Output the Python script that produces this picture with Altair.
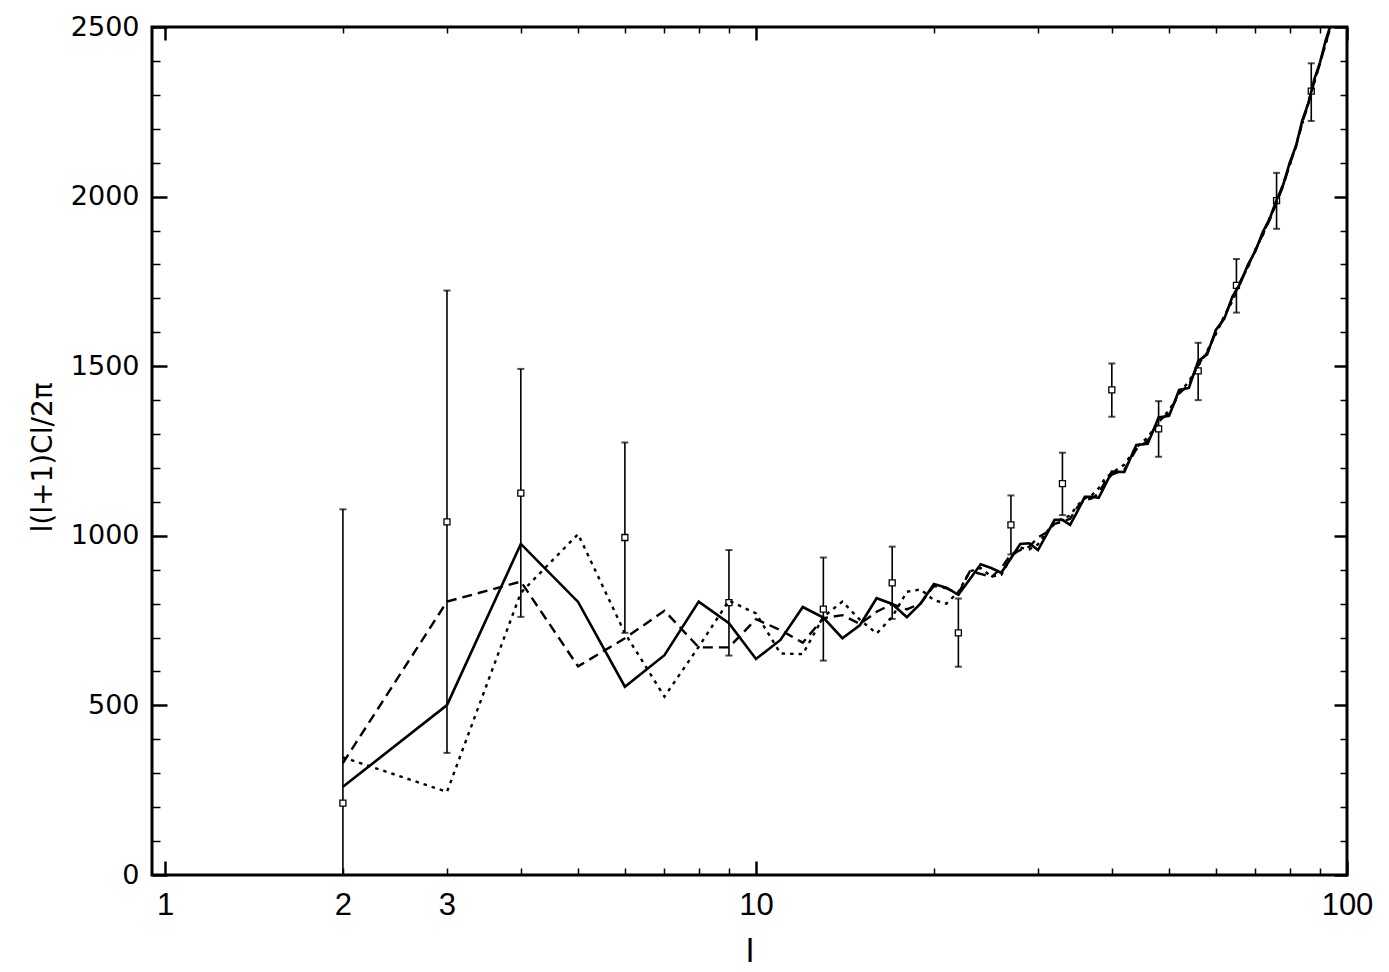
import altair as alt
import pandas as pd

# multipole grid of the three model curves
ell = [2, 3, 4, 5, 6, 7, 8, 9, 10, 11, 12, 13, 14, 15, 16, 17, 18, 19, 20,
       21, 22, 23, 24, 25, 26, 27, 28, 29, 30, 31, 32, 33, 34, 35, 36, 37, 38, 39, 40,
       42, 44, 46, 48, 50, 52, 54, 56, 58, 60, 62, 64, 66, 68, 70, 72, 74, 76, 78,
       80, 82, 84, 86, 88, 90, 92, 94, 96, 98, 100]

solid = [260, 501, 976, 805, 555, 648, 806, 742, 637, 693, 790, 759, 698, 737, 816, 799, 760, 801, 858,
         847, 826, 872, 916, 905, 891, 934, 976, 978, 958, 1003, 1047, 1047, 1032, 1073, 1115, 1115, 1112, 1150, 1189,
         1188, 1268, 1271, 1349, 1354, 1430, 1436, 1515, 1535, 1607, 1640, 1705, 1745, 1800, 1840, 1895, 1935, 1990, 2035,
         2100, 2150, 2225, 2275, 2345, 2395, 2460, 2510, 2570, 2620, 2680]

dashed = [330, 806, 865, 615, 698, 779, 671, 671, 754, 722, 685, 757, 766, 740, 776, 799, 783, 801, 852,
          845, 830, 895, 888, 878, 905, 945, 958, 968, 995, 1010, 1035, 1042, 1050, 1085, 1105, 1110, 1125, 1160, 1180,
          1195, 1255, 1280, 1340, 1360, 1420, 1445, 1505, 1540, 1600, 1645, 1698, 1748, 1795, 1842, 1888, 1932, 1982, 2032,
          2095, 2148, 2218, 2272, 2338, 2392, 2452, 2505, 2562, 2615, 2672]

dotted = [347, 245, 832, 1005, 713, 526, 673, 809, 771, 653, 651, 761, 806, 752, 712, 761, 835, 842, 810,
          800, 835, 895, 905, 880, 885, 935, 965, 960, 975, 1010, 1040, 1050, 1060, 1090, 1110, 1120, 1140, 1170, 1185,
          1210, 1260, 1290, 1335, 1370, 1420, 1455, 1500, 1545, 1595, 1648, 1692, 1750, 1792, 1845, 1885, 1938, 1980, 2038,
          2092, 2152, 2215, 2278, 2335, 2396, 2448, 2508, 2558, 2618, 2668]

# measured band powers with error bars
l_data = [2, 3, 4, 6, 9, 13, 17, 22, 27, 33, 40, 48, 56, 65, 76, 87]
v_data = [212, 1041, 1126, 995, 803, 784, 861, 714, 1032, 1154, 1430, 1315, 1486, 1738, 1988, 2311]
v_lo = [0, 360, 761, 714, 647, 632, 755, 614, 945, 1061, 1351, 1233, 1400, 1658, 1905, 2223]
v_hi = [1078, 1723, 1492, 1275, 958, 936, 968, 815, 1119, 1245, 1508, 1397, 1569, 1816, 2070, 2393]

x_label_ticks = [1, 2, 3, 10, 100]
x_major = [1, 10, 100]
x_minor = [2, 3, 4, 5, 6, 7, 8, 9, 20, 30, 40, 50, 60, 70, 80, 90]
y_major = [0, 500, 1000, 1500, 2000, 2500]
y_minor = [100, 200, 300, 400, 600, 700, 800, 900, 1100, 1200, 1300, 1400,
           1600, 1700, 1800, 1900, 2100, 2200, 2300, 2400]

df_s = pd.DataFrame({"l": ell, "v": solid})
df_d = pd.DataFrame({"l": ell, "v": dashed})
df_t = pd.DataFrame({"l": ell, "v": dotted})
df_e = pd.DataFrame({"l": l_data, "v": v_data, "lo": v_lo, "hi": v_hi})

xs = alt.Scale(type="log", domain=[0.9506, 100], nice=False)
ys = alt.Scale(domain=[0, 2500], nice=False, zero=False)

SANS = "Liberation Sans"
WIDE = "DejaVu Sans"

ax_x_lab = alt.Axis(orient="bottom", values=x_label_ticks, format="d", ticks=False, tickSize=0,
                    domain=False, grid=False, labelFont=SANS, labelFontSize=31, labelPadding=15,
                    labelColor="black", labelFlush=False, labelOverlap=False,
                    title="l", titleFont=SANS, titleFontSize=34, titleFontWeight="normal",
                    titleColor="black", titleY=86, titleBaseline="alphabetic")
ax_y_lab = alt.Axis(orient="left", values=y_major, format="d", ticks=False, tickSize=0,
                    domain=False, grid=False,
                    labelFont=WIDE, labelFontSize=27, labelPadding=13, labelColor="black",
                    labelFlush=False, labelOverlap=False,
                    title="l(l+1)Cl/2π", titleFont=WIDE, titleFontSize=28, titleFontWeight="normal",
                    titleColor="black", titleX=-101, titleY=430, titleAngle=270,
                    titleAlign="center", titleBaseline="alphabetic")


def tick_axis(orient, vals, size, width):
    return alt.Axis(orient=orient, values=vals, offset=-size, tickSize=size, tickWidth=width,
                    tickColor="black", labels=False, domain=False, grid=False, title=None)


rule = alt.Chart(df_e).mark_rule(color="black", strokeWidth=1.6).encode(
    x=alt.X("l:Q", scale=xs, axis=tick_axis("bottom", x_major, 14, 2.5)),
    y=alt.Y("lo:Q", scale=ys, axis=tick_axis("left", y_major, 15, 2.5)),
    y2="hi:Q",
)
cap_hi = alt.Chart(df_e).mark_tick(color="black", thickness=2, size=7, orient="horizontal").encode(
    x=alt.X("l:Q", scale=xs, axis=tick_axis("bottom", x_minor, 7, 1.5)),
    y=alt.Y("hi:Q", scale=ys, axis=tick_axis("left", y_minor, 8, 1.5)),
)
cap_lo = alt.Chart(df_e).mark_tick(color="black", thickness=2, size=7, orient="horizontal").encode(
    x=alt.X("l:Q", scale=xs, axis=tick_axis("top", x_major, 13, 2.5)),
    y=alt.Y("lo:Q", scale=ys, axis=tick_axis("right", y_major, 13, 2.5)),
)
squares = alt.Chart(df_e).mark_square(filled=True, fill="white", stroke="black",
                                      strokeWidth=1.3, size=36, opacity=1).encode(
    x=alt.X("l:Q", scale=xs, axis=tick_axis("top", x_minor, 6, 1.5)),
    y=alt.Y("v:Q", scale=ys, axis=tick_axis("right", y_minor, 7, 1.5)),
)
line_s = alt.Chart(df_s).mark_line(color="black", strokeWidth=2.6, clip=True).encode(
    x=alt.X("l:Q", scale=xs, axis=ax_x_lab),
    y=alt.Y("v:Q", scale=ys, axis=ax_y_lab),
)
line_d = alt.Chart(df_d).mark_line(color="black", strokeWidth=2.4, strokeDash=[10, 6], clip=True).encode(
    x=alt.X("l:Q", scale=xs, axis=None),
    y=alt.Y("v:Q", scale=ys, axis=None),
)
line_t = alt.Chart(df_t).mark_line(color="black", strokeWidth=2.4, strokeDash=[3.5, 5], clip=True).encode(
    x=alt.X("l:Q", scale=xs, axis=None),
    y=alt.Y("v:Q", scale=ys, axis=None),
)

chart = alt.layer(rule, cap_hi, cap_lo, squares, line_s, line_d, line_t).resolve_axis(
    x="independent", y="independent"
).properties(
    width=1195, height=848,
    autosize=alt.AutoSizeParams(type="none"),
    padding={"left": 144, "top": 19, "right": 34, "bottom": 96},
    background="white",
).configure_view(stroke="black", strokeWidth=3)

chart.save("out.html", embed_options={"renderer": "svg", "actions": False})
